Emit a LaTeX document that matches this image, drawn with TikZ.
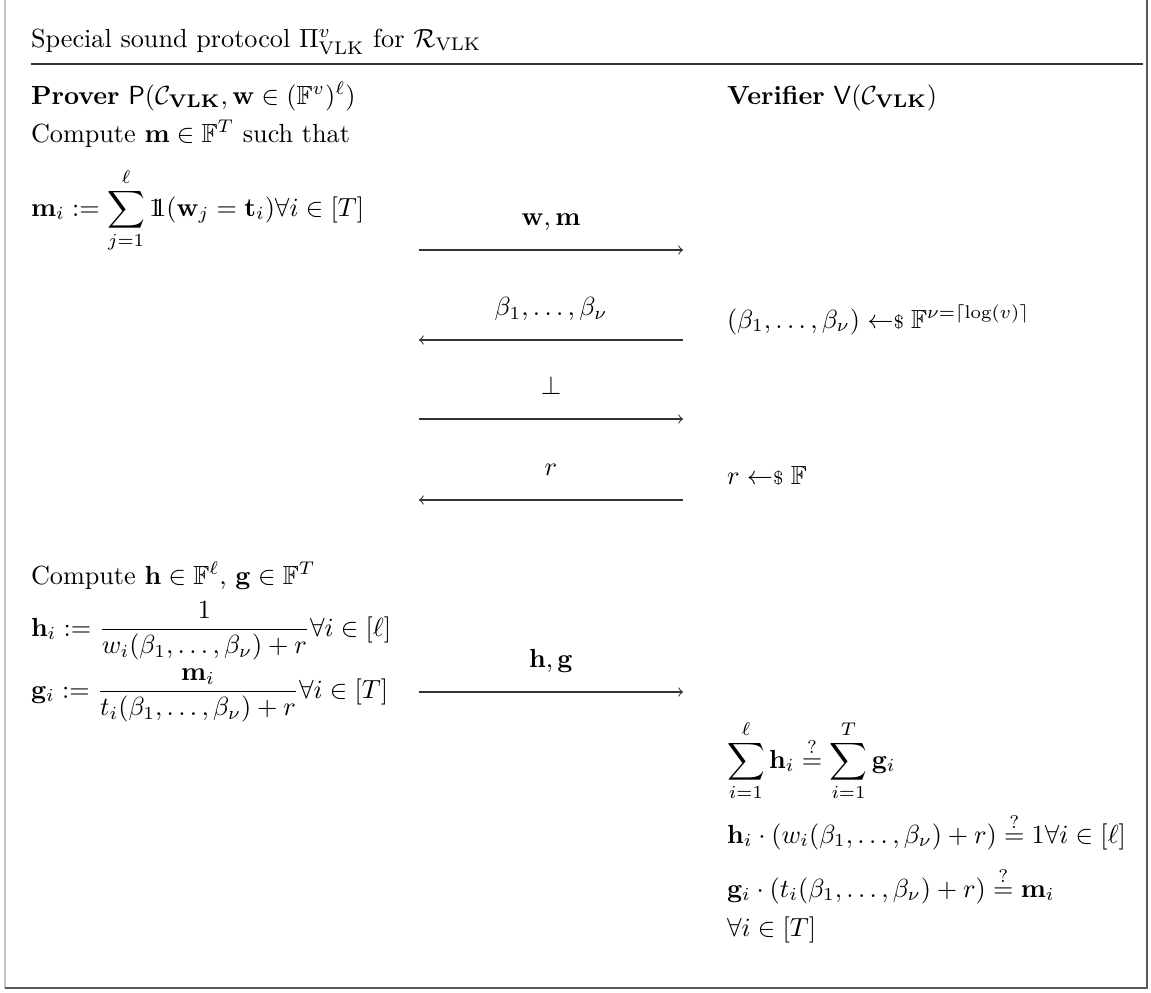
\documentclass[tikz,border=0pt]{standalone}
\usepackage{amsmath,amssymb}
\newcommand{\smp}{\mathrel{\leftarrow\mkern-5mu{\scriptstyle\$}}}
\newcommand{\indic}{\mathord{\mathrm{1}\mkern-6.2mu\mathrm{1}}}
\tikzset{
  txt/.style={anchor=base west,inner sep=0pt,outer sep=0pt},
  msg/.style={draw=black!80,line width=0.4pt,-to},
  lbl/.style={midway,anchor=base,inner sep=0pt,yshift=9.5pt}
}
\begin{document}
\begin{tikzpicture}[x={(0.3817pt,0)},y={(0,-0.3817pt)}]
\useasboundingbox (0,0) rectangle (1151,992);
% frame
\draw[gray!45,line width=0.5pt] (5,0) -- (5,988);
\draw[black!65,line width=0.8pt] (5,988) -- (1147,988) -- (1147,0);
% header
\node[txt] (title) at (31,47) {Special sound protocol $\Pi^{v}_{\mathrm{VLK}}$ for $\mathcal{R}_{\mathrm{VLK}}$};
\coordinate (rl) at (31,64);
\coordinate (rr) at (1143,64);
\draw[black!80,line width=0.4pt] (rl) -- (rr);
% parties
\node[txt] (prov) at (31,104) {\textbf{Prover} $\mathsf{P}(\mathcal{C}_{\mathbf{VLK}},\mathbf{w}\in(\mathbb{F}^v)^\ell)$};
\node[txt] (ver) at (727,104) {\textbf{Verifier} $\mathsf{V}(\mathcal{C}_{\mathbf{VLK}})$};
% prover step 1
\node[txt] (cm) at (31,142) {Compute $\mathbf{m}\in\mathbb{F}^T$ such that};
\node[txt] (mi) at (31,216) {$\displaystyle \mathbf{m}_i := \sum_{j=1}^{\ell}\indic(\mathbf{w}_j=\mathbf{t}_i)\forall i\in[T]$};
% messages
\coordinate (a1s) at (419,250); \coordinate (a1e) at (683,250);
\draw[msg] (a1s) -- node[lbl] {$\mathbf{w},\mathbf{m}$} (a1e);
\coordinate (a2s) at (683,340); \coordinate (a2e) at (419,340);
\draw[msg] (a2s) -- node[lbl] {$\beta_1,\ldots,\beta_\nu$} (a2e);
\node[txt] (vb) at (727,328) {$(\beta_1,\ldots,\beta_\nu)\smp\mathbb{F}^{\nu=\lceil\log(v)\rceil}$};
\coordinate (a3s) at (419,419); \coordinate (a3e) at (683,419);
\draw[msg] (a3s) -- node[lbl] {$\bot$} (a3e);
\coordinate (a4s) at (683,500); \coordinate (a4e) at (419,500);
\draw[msg] (a4s) -- node[lbl] {$r$} (a4e);
\node[txt] (vr) at (727,484) {$r\smp\mathbb{F}$};
% prover step 2
\node[txt] (ch) at (31,584) {Compute $\mathbf{h}\in\mathbb{F}^\ell$, $\mathbf{g}\in\mathbb{F}^T$};
\node[txt] (hi) at (31,636) {$\displaystyle\mathbf{h}_i := \frac{1}{w_i(\beta_1,\ldots,\beta_\nu)+r}\forall i\in[\ell]$};
\node[txt] (gi) at (31,698) {$\displaystyle\mathbf{g}_i := \frac{\mathbf{m}_i}{t_i(\beta_1,\ldots,\beta_\nu)+r}\forall i\in[T]$};
\coordinate (a5s) at (419,692); \coordinate (a5e) at (683,692);
\draw[msg] (a5s) -- node[lbl] {$\mathbf{h},\mathbf{g}$} (a5e);
% verifier checks
\node[txt] (v1) at (727,768) {$\displaystyle\sum_{i=1}^{\ell}\mathbf{h}_i\stackrel{?}{=}\sum_{i=1}^{T}\mathbf{g}_i$};
\node[txt] (v2) at (727,843) {$\mathbf{h}_i\cdot(w_i(\beta_1,\ldots,\beta_\nu)+r)\stackrel{?}{=}1\forall i\in[\ell]$};
\node[txt] (v3) at (727,897) {$\mathbf{g}_i\cdot(t_i(\beta_1,\ldots,\beta_\nu)+r)\stackrel{?}{=}\mathbf{m}_i$};
\node[txt] (v4) at (727,936) {$\forall i\in[T]$};
\end{tikzpicture}
\end{document}
